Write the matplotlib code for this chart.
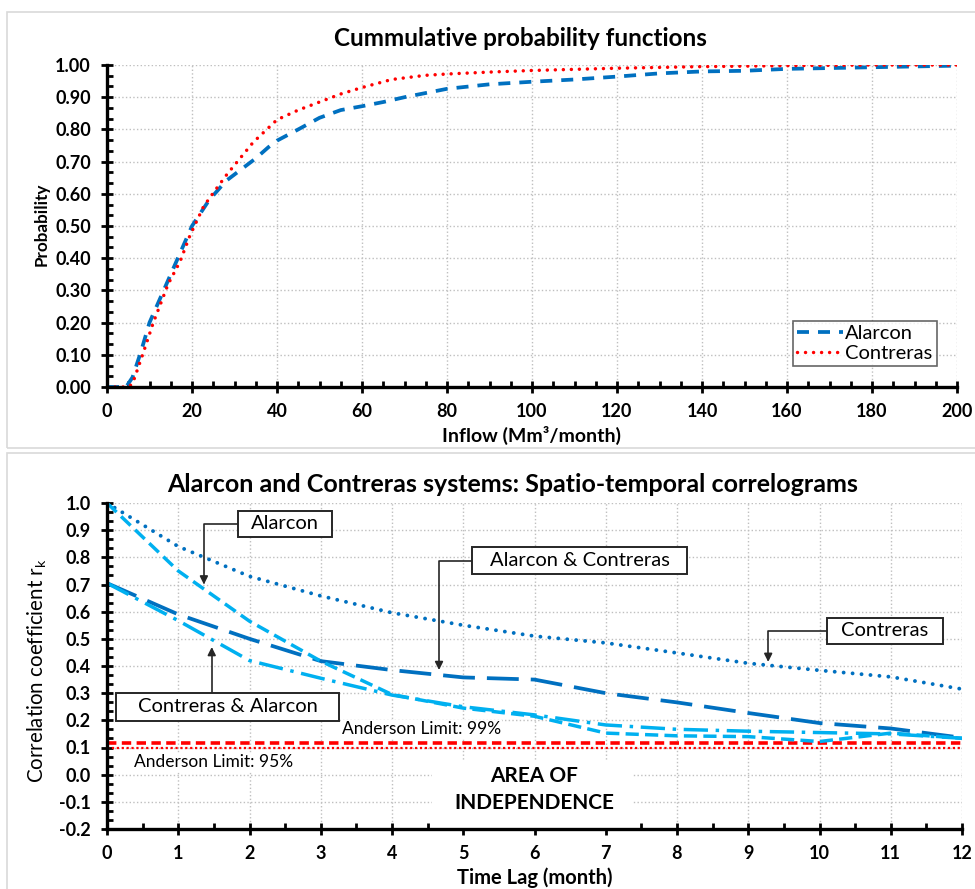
import numpy as np
import matplotlib
matplotlib.use('Agg')
import matplotlib.pyplot as plt
from matplotlib.patches import Rectangle
from matplotlib.ticker import AutoMinorLocator

plt.rcParams['font.family'] = ['Lato', 'DejaVu Sans']

# ---- top panel: cumulative probability of monthly inflow (Mm3/month) ----
inflow_alarcon = [0, 4.5, 6, 8, 10, 13, 16, 18, 20, 24, 28, 32, 35, 38, 40, 45,
                  50, 55, 60, 65, 70, 80, 90, 100, 110, 120, 130, 140, 150,
                  160, 180, 200]
prob_alarcon = [0, 0, 0.03, 0.11, 0.20, 0.29, 0.38, 0.44, 0.50, 0.58, 0.64,
                0.68, 0.71, 0.745, 0.765, 0.80, 0.836, 0.86, 0.872, 0.885,
                0.90, 0.926, 0.94, 0.948, 0.955, 0.964, 0.974, 0.98, 0.982,
                0.988, 0.993, 0.998]
inflow_contreras = [0, 5, 6, 8.5, 10.9, 14.4, 17.2, 19.5, 22.7, 25.4, 28.2,
                    31.3, 34.4, 38.4, 40, 45, 50, 55, 60, 67, 75, 80, 90, 100,
                    120, 140, 160, 180, 200]
prob_contreras = [0, 0, 0.01, 0.105, 0.20, 0.32, 0.39, 0.47, 0.56, 0.61, 0.66,
                  0.71, 0.76, 0.81, 0.83, 0.86, 0.885, 0.91, 0.93, 0.955,
                  0.968, 0.972, 0.978, 0.983, 0.99, 0.995, 0.998, 1.0, 1.0]

# ---- bottom panel: spatio-temporal correlograms ----
lags = list(range(13))
r_alarcon = [1.0, 0.75, 0.565, 0.418, 0.295, 0.245, 0.215, 0.153, 0.143,
             0.14, 0.122, 0.153, 0.134]
r_contreras = [1.0, 0.84, 0.73, 0.658, 0.596, 0.55, 0.51, 0.485, 0.448, 0.41,
               0.384, 0.36, 0.315]
r_alarcon_contreras = [0.705, 0.59, 0.50, 0.418, 0.385, 0.358, 0.35, 0.30,
                       0.266, 0.227, 0.19, 0.17, 0.136]
r_contreras_alarcon = [0.705, 0.567, 0.42, 0.355, 0.293, 0.25, 0.22, 0.183,
                       0.167, 0.16, 0.155, 0.15, 0.134]
anderson_99 = 0.117
anderson_95 = 0.100

W, H = 975, 889
fig = plt.figure(figsize=(W / 100, H / 100), dpi=100)


def fx(px):
    return px / W


def fy(py):
    return 1 - py / H


# light grey chart-area frames (Excel style)
for y0, y1 in [(12, 448), (453, 900)]:
    fig.patches.append(Rectangle((fx(7), fy(y1)), fx(W + 20), fy(y0) - fy(y1),
                                 transform=fig.transFigure, fill=False,
                                 ec='#D9D9D9', lw=1.2))


def style_axes(ax, xticks, yticks, yfmt, ny_minor, nx_minor):
    ax.set_axisbelow(True)
    for s in ['top', 'right']:
        ax.spines[s].set_visible(False)
    for s in ['left', 'bottom']:
        ax.spines[s].set_linewidth(2.4)
        ax.spines[s].set_zorder(5)
    ax.set_xticks(xticks)
    ax.set_xticklabels([f'{t:g}' for t in xticks], fontweight='bold')
    ax.set_yticks(yticks)
    ax.set_yticklabels([yfmt.format(t) for t in yticks], fontweight='bold')
    ax.xaxis.set_minor_locator(AutoMinorLocator(nx_minor))
    ax.yaxis.set_minor_locator(AutoMinorLocator(ny_minor))
    ax.tick_params(which='major', direction='inout', length=9, width=2,
                   labelsize=13, pad=7)
    ax.tick_params(which='minor', direction='in', length=4, width=2)
    ax.grid(which='major', color='#BFBFBF', ls=':', lw=1)


# ================= top chart =================
ax1 = fig.add_axes([fx(107), fy(387), fx(957 - 107), fy(65) - fy(387)])
ax1.plot(inflow_alarcon, prob_alarcon, color='#0070C0', lw=2.7,
         dashes=(3.2, 2.4), label='Alarcon', zorder=3)
ax1.plot(inflow_contreras, prob_contreras, color='#FF0000', lw=2.5,
         dashes=(0.01, 2.3), dash_capstyle='round', label='Contreras',
         zorder=4)
ax1.set_xlim(0, 200)
ax1.set_ylim(0, 1.0)
style_axes(ax1, np.arange(0, 201, 20), np.round(np.arange(0, 1.01, 0.1), 2),
           '{:.2f}', 3, 4)
leg = ax1.legend(loc='upper left', bbox_to_anchor=(fx(793), fy(321)),
                 bbox_transform=fig.transFigure, fontsize=14.5,
                 handlelength=2.3, handletextpad=0.1, frameon=True,
                 fancybox=False, borderpad=0.2, labelspacing=0.15,
                 borderaxespad=0)
leg.get_frame().set_edgecolor('#404040')
leg.get_frame().set_linewidth(1.2)

fig.text(fx(520), fy(39), 'Cummulative probability functions', fontsize=17.5,
         fontweight='bold', ha='center', va='center')
fig.text(fx(532), fy(435), 'Inflow (Mm³/month)', fontsize=14,
         fontweight='bold', ha='center', va='center')
fig.text(fx(42), fy(224), 'Probability', fontsize=12.3, fontweight='bold',
         rotation=90, ha='center', va='center')

# ================= bottom chart =================
ax2 = fig.add_axes([fx(107), fy(829), fx(962 - 107), fy(503) - fy(829)])
ax2.set_xlim(0, 12)
ax2.set_ylim(-0.2, 1.0)
style_axes(ax2, np.arange(0, 13, 1), np.round(np.arange(-0.2, 1.01, 0.1), 1),
           '{:.1f}', 3, 2)

ax2.axhline(anderson_95, color='#FF0000', lw=1.6, dashes=(1, 1.2), zorder=3)
ax2.axhline(anderson_99, color='#FF0000', lw=2.6, dashes=(2.6, 1.5), zorder=3)
ax2.plot(lags, r_contreras, color='#0070C0', lw=2.8, dashes=(0.01, 2.3),
         dash_capstyle='round', zorder=4)
ax2.plot(lags, r_alarcon_contreras, color='#0070C0', lw=2.7,
         dashes=(8.5, 3.2), zorder=4)
ax2.plot(lags, r_alarcon, color='#00B0F0', lw=2.5, dashes=(3.8, 1.8),
         zorder=4)
ax2.plot(lags, r_contreras_alarcon, color='#00B0F0', lw=2.5,
         dashes=(7, 2.2, 1, 2.2), zorder=4)

# white text area hiding the grid behind the label
ax2.add_patch(Rectangle((4.56, -0.2), 7.37 - 4.56, 0.254, fc='white',
                        ec='none', zorder=1))
ax2.text(6.0, -0.005, 'AREA OF', fontsize=15, fontweight='bold',
         ha='center', va='center', zorder=6)
ax2.text(6.0, -0.103, 'INDEPENDENCE', fontsize=15, fontweight='bold',
         ha='center', va='center', zorder=6)

ax2.text(3.3, 0.15, 'Anderson Limit: 99%', fontsize=12.5, ha='left',
         va='baseline', zorder=6,
         bbox=dict(fc='white', ec='none', pad=0.5))
ax2.text(0.38, 0.028, 'Anderson Limit: 95%', fontsize=12.5, ha='left',
         va='baseline', zorder=6,
         bbox=dict(fc='white', ec='none', pad=0.5))

# call-out boxes (x0, x1, y0, y1) with elbow arrows (start -> tip)
arrow = dict(arrowstyle='-|>', color='#262626', lw=1.2, mutation_scale=12,
             shrinkA=0, shrinkB=0,
             connectionstyle='angle,angleA=0,angleB=90,rad=0')
callouts = [('Alarcon', (1.839, 3.158, 0.875, 0.971), (1.839, 0.923), (1.36, 0.70)),
            ('Alarcon & Contreras', (5.123, 8.140, 0.739, 0.838), (5.123, 0.788), (4.66, 0.385)),
            ('Contreras', (10.105, 11.733, 0.481, 0.577), (10.105, 0.529), (9.28, 0.415)),
            ('Contreras & Alarcon', (0.126, 3.256, 0.198, 0.301), (1.47, 0.301), (1.47, 0.47))]
for label, (bx0, bx1, by0, by1), start, tip in callouts:
    ax2.annotate('', xy=tip, xytext=start, arrowprops=arrow, zorder=6)
    ax2.add_patch(Rectangle((bx0, by0), bx1 - bx0, by1 - by0, fc='white',
                            ec='#262626', lw=1.4, zorder=7))
    ax2.text((bx0 + bx1) / 2, (by0 + by1) / 2, label, fontsize=14.5,
             ha='center', va='center', zorder=8)

fig.text(fx(513), fy(485),
         'Alarcon and Contreras systems: Spatio-temporal correlograms',
         fontsize=18, fontweight='bold', ha='center', va='center')
fig.text(fx(535), fy(878), 'Time Lag (month)', fontsize=14.5,
         fontweight='bold', ha='center', va='center')
fig.text(fx(37), fy(671), 'Correlation coefficient r$_\\mathregular{k}$',
         fontsize=14.8, rotation=90, ha='center', va='center')

fig.savefig('out.png', dpi=100)
